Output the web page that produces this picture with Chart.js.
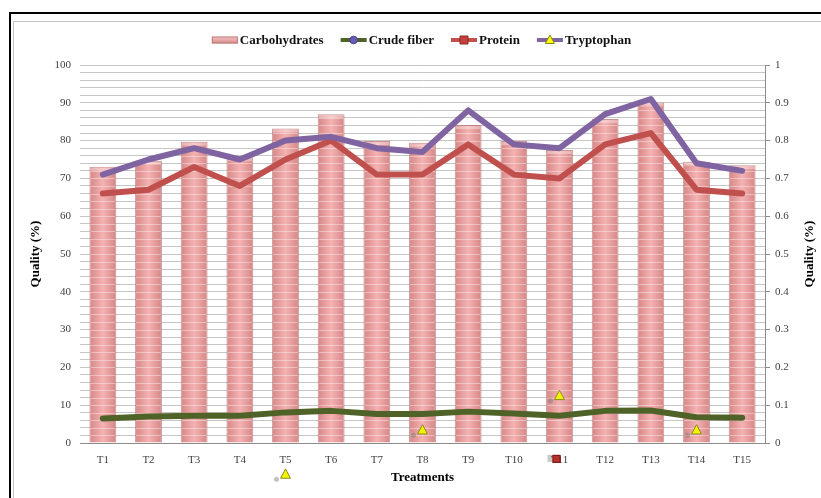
<!DOCTYPE html>
<html>
<head>
<meta charset="utf-8">
<script src="https://cdn.jsdelivr.net/npm/chart.js@4.4.1/dist/chart.umd.min.js"></script>
<style>
  html, body { margin: 0; padding: 0; background: #fff; }
  #wrap { position: relative; width: 821px; height: 498px; overflow: hidden; }
  .frame-outer { position: absolute; left: 9px; top: 12px; width: 900px; height: 600px; border: 2.5px solid #000; }
  .frame-inner { position: absolute; left: 13px; top: 20.5px; width: 900px; height: 600px; border: 1.5px solid #c4c4c4; }
  canvas { position: absolute; left: 0; top: 0; }
</style>
</head>
<body>
<div id="wrap">
  <div class="frame-outer"></div>
  <div class="frame-inner"></div>
  <canvas id="c" width="821" height="498"></canvas>
</div>
<script>
// Treatments on the x axis
const treatments = ['T1','T2','T3','T4','T5','T6','T7','T8','T9','T10','T11','T12','T13','T14','T15'];

// Carbohydrates (%), left axis
const carbohydrates = [73.1, 74.7, 79.7, 75.6, 83.2, 87.0, 79.9, 79.4, 84.1, 79.9, 77.5, 85.7, 90.1, 74.4, 73.5];

// Quality fractions, right axis
const crudeFiber = [0.065, 0.070, 0.072, 0.072, 0.081, 0.085, 0.077, 0.077, 0.083, 0.078, 0.072, 0.085, 0.086, 0.068, 0.067];
const protein    = [0.66, 0.67, 0.73, 0.68, 0.75, 0.80, 0.71, 0.71, 0.79, 0.71, 0.70, 0.79, 0.82, 0.67, 0.66];
const tryptophan = [0.71, 0.75, 0.78, 0.75, 0.80, 0.81, 0.78, 0.77, 0.88, 0.79, 0.78, 0.87, 0.91, 0.74, 0.72];

// Loose marker points left over on the plot (right-axis values, null = none)
const looseTriangles = [null, null, null, null, -0.083, null, null, 0.034, null, null, 0.125, null, null, 0.034, null];
const looseSquares   = [null, null, null, null, null, null, null, null, null, null, -0.042, null, null, null, null];

// Axis tick settings
const leftMax = 100, leftStep = 2, leftLabelEvery = 10;
const rightMax = 1, rightStep = 0.02;

const SERIF = '"Liberation Serif", "Times New Roman", serif';
const BAR_FRACTION = 0.588;

function barGradient(ctx) {
  const chart = ctx.chart;
  const xs = chart.scales && chart.scales.x;
  if (!chart.chartArea || !xs || ctx.type !== 'data') return 'rgb(232,158,158)';
  const cx = xs.getPixelForValue(ctx.dataIndex);
  const w = (xs.width / treatments.length) * BAR_FRACTION;
  const g = chart.ctx.createLinearGradient(cx - w / 2, 0, cx + w / 2, 0);
  g.addColorStop(0, 'rgb(214,134,134)');
  g.addColorStop(0.5, 'rgb(244,178,178)');
  g.addColorStop(1, 'rgb(214,134,134)');
  return g;
}

// light stripes and a top highlight on each bar
const barSheen = {
  id: 'barSheen',
  afterDatasetDraw(chart, args) {
    const meta = args.meta;
    if (meta.type !== 'bar') return;
    const ctx = chart.ctx;
    const ys = chart.scales.y;
    meta.data.forEach(el => {
      const p = el.getProps(['x', 'y', 'base', 'width'], true);
      const l = p.x - p.width / 2 + 1, w = p.width - 2;
      ctx.save();
      ctx.beginPath();
      ctx.rect(l, p.y + 1, w, p.base - p.y - 1);
      ctx.clip();
      ctx.strokeStyle = 'rgba(255,255,255,0.38)';
      ctx.lineWidth = 1;
      for (let v = 0; v <= leftMax; v += leftStep) {
        const py = Math.round(ys.getPixelForValue(v)) + 0.5;
        ctx.beginPath();
        ctx.moveTo(l, py);
        ctx.lineTo(l + w, py);
        ctx.stroke();
      }
      ctx.fillStyle = 'rgba(255,255,255,0.35)';
      ctx.fillRect(l, p.y + 1, w, 3);
      ctx.restore();
    });
  }
};

function triangle(ctx, x, y, r) {
  ctx.beginPath();
  ctx.moveTo(x, y - r);
  ctx.lineTo(x + r * 0.9, y + r * 0.7);
  ctx.lineTo(x - r * 0.9, y + r * 0.7);
  ctx.closePath();
}

// legend row, right-hand axis title and loose markers
const decorations = {
  id: 'decorations',
  afterDraw(chart) {
    const ctx = chart.ctx;
    const xs = chart.scales.x, y1 = chart.scales.y1;
    ctx.save();

    // loose markers, placed through the category and right-hand scales
    treatments.forEach((t, i) => {
      const px = xs.getPixelForValue(i);
      if (looseTriangles[i] !== null) {
        const py = y1.getPixelForValue(looseTriangles[i]);
        ctx.fillStyle = 'rgba(120,120,120,0.45)';
        ctx.beginPath();
        ctx.arc(px - 9, py + 5, 2.5, 0, Math.PI * 2);
        ctx.fill();
        triangle(ctx, px, py, 5.5);
        ctx.fillStyle = '#f4f400';
        ctx.fill();
        ctx.strokeStyle = '#8a8a20';
        ctx.lineWidth = 1;
        ctx.stroke();
      }
      if (looseSquares[i] !== null) {
        const py = y1.getPixelForValue(looseSquares[i]);
        ctx.fillStyle = 'rgba(120,120,120,0.4)';
        ctx.fillRect(px - 12, py - 4, 5, 7);
        ctx.fillStyle = '#b8302c';
        ctx.strokeStyle = '#7a1a18';
        ctx.lineWidth = 1;
        ctx.fillRect(px - 7, py - 4, 8, 8);
        ctx.strokeRect(px - 6.5, py - 3.5, 7, 7);
      }
    });

    const items = chart.data.datasets.filter(d => d.legendSwatch);
    ctx.font = 'bold 13px ' + SERIF;
    ctx.textBaseline = 'middle';
    ctx.textAlign = 'left';
    const sw = 26, gap = 2, spacing = 17;
    const widths = items.map(d => sw + gap + ctx.measureText(d.label).width);
    const total = widths.reduce((a, b) => a + b, 0) + spacing * (items.length - 1);
    const cy = 40;
    let x = 421.5 - total / 2;
    items.forEach((d, i) => {
      const s = d.legendSwatch;
      if (s.kind === 'bar') {
        const g = ctx.createLinearGradient(0, cy - 4, 0, cy + 4);
        g.addColorStop(0, 'rgb(246,200,200)');
        g.addColorStop(1, 'rgb(215,135,135)');
        ctx.fillStyle = g;
        ctx.fillRect(x, cy - 3.5, sw, 7);
        ctx.strokeStyle = 'rgba(180,110,110,0.8)';
        ctx.lineWidth = 1;
        ctx.strokeRect(x + 0.5, cy - 3, sw - 1, 6);
      } else {
        ctx.strokeStyle = d.borderColor;
        ctx.lineWidth = 4;
        ctx.lineCap = 'butt';
        ctx.beginPath();
        ctx.moveTo(x, cy);
        ctx.lineTo(x + sw, cy);
        ctx.stroke();
        const mx = x + sw / 2;
        ctx.fillStyle = s.fill;
        ctx.strokeStyle = s.stroke;
        ctx.lineWidth = 1;
        ctx.beginPath();
        if (s.marker === 'circle') {
          ctx.arc(mx, cy, 3.8, 0, Math.PI * 2);
        } else if (s.marker === 'rect') {
          ctx.rect(mx - 4, cy - 4, 8, 8);
        } else {
          triangle(ctx, mx, cy, 5);
        }
        ctx.fill();
        ctx.stroke();
      }
      ctx.fillStyle = '#111';
      ctx.fillText(d.label, x + sw + gap, cy + 0.5);
      x += widths[i] + spacing;
    });

    ctx.translate(810, 254);
    ctx.rotate(-Math.PI / 2);
    ctx.textAlign = 'center';
    ctx.fillStyle = '#000';
    ctx.fillText('Quality (%)', 0, 0);
    ctx.restore();
  }
};

const lineStyle = {
  type: 'line',
  yAxisID: 'y1',
  borderWidth: 6,
  pointRadius: 0,
  pointHoverRadius: 0,
  tension: 0,
  borderJoinStyle: 'round',
  borderCapStyle: 'round',
  fill: false
};

new Chart(document.getElementById('c'), {
  data: {
    labels: treatments,
    datasets: [
      {
        type: 'bar',
        label: 'Carbohydrates',
        data: carbohydrates,
        yAxisID: 'y',
        order: 10,
        backgroundColor: barGradient,
        borderColor: 'rgba(185,112,112,0.75)',
        borderWidth: 1,
        categoryPercentage: 1,
        barPercentage: BAR_FRACTION,
        legendSwatch: { kind: 'bar' }
      },
      Object.assign({}, lineStyle, {
        label: 'Crude fiber', data: crudeFiber, order: 3,
        borderColor: '#4F6228',
        legendSwatch: { kind: 'line', marker: 'circle', fill: '#6a5cb8', stroke: '#4a3f8a' }
      }),
      Object.assign({}, lineStyle, {
        label: 'Protein', data: protein, order: 2,
        borderColor: '#C0504D',
        legendSwatch: { kind: 'line', marker: 'rect', fill: '#c8403c', stroke: '#8a2a28' }
      }),
      Object.assign({}, lineStyle, {
        label: 'Tryptophan', data: tryptophan, order: 1,
        borderColor: '#8064A2',
        legendSwatch: { kind: 'line', marker: 'triangle', fill: '#ffff00', stroke: '#8a8a10' }
      })
    ]
  },
  options: {
    responsive: false,
    animation: false,
    events: [],
    layout: { padding: { top: 65, left: 0, right: 0, bottom: 0 } },
    plugins: {
      legend: { display: false },
      tooltip: { enabled: false }
    },
    scales: {
      x: {
        type: 'category',
        grid: { display: false },
        border: { display: true, color: '#8c8c8c', width: 1 },
        ticks: {
          font: { family: SERIF, size: 11 },
          color: '#404040',
          padding: 3,
          maxRotation: 0,
          autoSkip: false
        },
        title: {
          display: true,
          text: 'Treatments',
          font: { family: SERIF, size: 13, weight: 'bold' },
          color: '#000',
          padding: { top: 0, bottom: 13 }
        },
        afterFit(scale) { scale.height = 55; }
      },
      y: {
        type: 'linear',
        position: 'left',
        min: 0,
        max: leftMax,
        grid: { color: '#c6c6c6', lineWidth: 1, drawTicks: false },
        border: { display: false },
        ticks: {
          stepSize: leftStep,
          autoSkip: false,
          padding: 9,
          font: { family: SERIF, size: 11 },
          color: '#404040',
          callback: v => (v % leftLabelEvery === 0 ? String(v) : '')
        },
        title: {
          display: true,
          text: 'Quality (%)',
          font: { family: SERIF, size: 13, weight: 'bold' },
          color: '#000',
          padding: { top: 28, bottom: 0 }
        },
        afterFit(scale) { scale.width = 80; }
      },
      y1: {
        type: 'linear',
        position: 'right',
        min: 0,
        max: rightMax,
        grid: {
          drawOnChartArea: false,
          drawTicks: true,
          tickLength: 5,
          color: c => (c.tick && Math.round(c.tick.value * 100) % 10 === 0 ? '#8c8c8c' : 'rgba(0,0,0,0)')
        },
        border: { display: true, color: '#8c8c8c', width: 1 },
        ticks: {
          stepSize: rightStep,
          autoSkip: false,
          padding: 5,
          font: { family: SERIF, size: 11 },
          color: '#404040',
          callback: v => {
            const n = Math.round(v * 100);
            return n % 10 === 0 ? String(n / 100) : '';
          }
        },
        afterFit(scale) { scale.width = 56; }
      }
    }
  },
  plugins: [barSheen, decorations]
});
</script>
</body>
</html>
